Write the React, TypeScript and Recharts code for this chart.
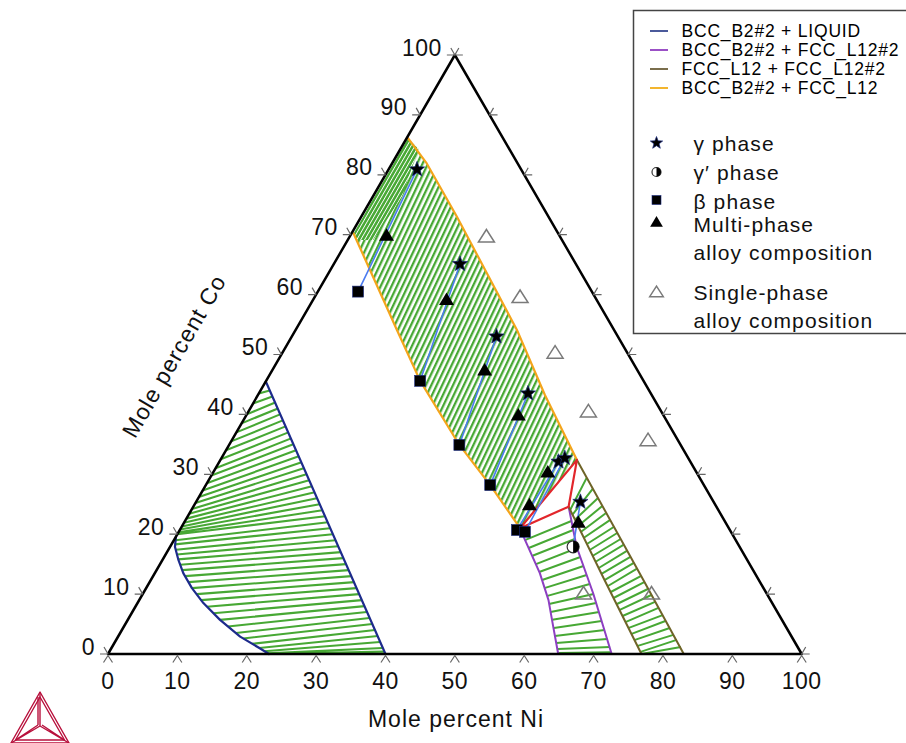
import React from 'react';
import { ScatterChart, Scatter, XAxis, YAxis } from 'recharts';

// ternary points are [Ni, Co] in mole percent, Fe is the rest
type TP = [number, number];

const SQ = Math.sqrt(3) / 2;
const FONT = '"Liberation Sans", Arial, Helvetica, sans-serif';

const GREEN = '#47a834';
const NAVY = '#1d2b8c';
const ORANGE = '#f4a51c';
const PURPLE = '#8d3fc2';
const OLIVE = '#6f6428';
const RED = '#e2262b';
const BLUE = '#4b7bf0';
const TICK = '#666666';

// axes
const axisTicks = [0, 10, 20, 30, 40, 50, 60, 70, 80, 90, 100];
const frame: TP[] = [[0, 0], [100, 0], [0, 100], [0, 0]];

// BCC_B2#2 + LIQUID
const liquidOuter: TP[] = [[0, 45.5], [40, 0]];
const liquidInner: TP[] = [
  [0, 19.6], [0.7, 17.9], [2.3, 15.7], [4.1, 13.5], [6.6, 11.0], [9.5, 8.5],
  [13.3, 5.7], [17.6, 2.9], [21.4, 0.95], [23.2, 0],
];
// tie lines: Ni, Co (liquid side) -> Ni, Co (bcc side)
const liquidTies = [
  [0, 43.5, 1.3, 44], [0, 41.8, 2.2, 43], [0, 40.0, 3.1, 42], [0, 38.5, 4.0, 41],
  [0, 37.0, 4.8, 40], [0, 35.5, 5.7, 39], [0, 34.0, 6.6, 38], [0, 32.5, 7.5, 37],
  [0, 31.0, 8.4, 36], [0, 29.8, 9.2, 35], [0, 28.5, 10.1, 34], [0, 27.3, 11.0, 33],
  [0, 26.2, 11.9, 32], [0, 25.2, 12.7, 31], [0, 24.2, 13.6, 30], [0, 23.4, 14.5, 29],
  [0, 22.6, 15.4, 28], [0, 21.9, 16.3, 27], [0, 21.3, 17.1, 26], [0, 20.8, 18.0, 25],
  [0, 20.3, 18.9, 24], [0, 20.0, 19.8, 23], [0.25, 19.0, 20.7, 22], [0.5, 18.3, 21.5, 21],
  [1.1, 17.4, 22.4, 20], [1.6, 16.6, 23.3, 19], [2.2, 15.8, 24.2, 18], [2.95, 14.9, 25.1, 17],
  [3.7, 14.0, 25.9, 16], [4.6, 13.0, 26.8, 15], [5.6, 12.0, 27.7, 14], [6.6, 11.0, 28.6, 13],
  [7.8, 10.0, 29.5, 12], [8.9, 9.0, 30.3, 11], [10.3, 7.9, 31.2, 10], [11.8, 6.8, 32.1, 9],
  [13.3, 5.7, 33.0, 8], [15.0, 4.6, 33.8, 7], [16.7, 3.5, 34.7, 6], [18.2, 2.6, 35.6, 5],
  [19.9, 1.7, 36.5, 4], [21.3, 1.0, 37.4, 3], [22.3, 0.45, 38.2, 2], [23.0, 0.1, 39.1, 1],
  [23.2, 0, 39.6, 0.4],
];

// BCC_B2#2 + FCC_L12
const bandFcc: TP[] = [[0.2, 86.1], [5.0, 81.9], [13.8, 73.0], [22.8, 63.6], [31.9, 54.1], [41.4, 43.2], [51.4, 32.4]];
const bandBcc: TP[] = [[0.3, 70.2], [14.6, 54.1], [22.2, 45.6], [33.2, 34.9], [41.0, 28.2], [48.9, 21.0]];
const bandDense: TP[] = [[0.3, 70.2], [0.2, 86.1], [2.6, 84.3], [4.2, 76.3], [3.7, 69.1], [1.3, 69.1]];

// three phase triangle BCC_B2#2 + FCC_L12 + FCC_L12#2
const threePhase: TP[] = [[48.9, 21.0], [51.4, 32.4], [54.1, 24.6], [48.9, 21.0]];

// BCC_B2#2 + FCC_L12#2
const purpleLeft: TP[] = [[48.9, 21.0], [50.1, 19.6], [55.5, 13.5], [59.0, 9.0], [61.9, 4.56], [64.9, 0]];
const purpleRight: TP[] = [[54.1, 24.6], [58.6, 17.9], [64.9, 10.1], [72.6, 0]];
const purpleTies = [
  [50.6, 19.0, 55.7, 22.2], [51.8, 17.7, 56.7, 20.7], [53.0, 16.4, 57.7, 19.2],
  [54.2, 15.0, 58.8, 17.7], [55.3, 13.7, 60.0, 16.2], [56.4, 12.35, 61.2, 14.7],
  [57.4, 11.0, 62.4, 13.2], [58.5, 9.7, 63.6, 11.7], [59.4, 8.35, 65.0, 10.0],
  [60.3, 7.0, 66.1, 8.5], [61.2, 5.7, 67.3, 7.0], [62.1, 4.35, 68.4, 5.5],
  [62.9, 3.0, 69.6, 4.0], [63.7, 1.85, 70.7, 2.5], [64.4, 0.85, 71.8, 1.15],
  [64.8, 0.15, 72.4, 0.3],
];

// FCC_L12 + FCC_L12#2
const oliveLeft: TP[] = [[54.1, 24.6], [65.4, 12.35], [76.9, 0]];
const oliveRight: TP[] = [[51.4, 32.4], [71.0, 12.35], [83.0, 0]];
const oliveTies = [
  [54.6, 24.0, 54.3, 29.4], [55.3, 23.2, 56.1, 27.55], [56.1, 22.4, 57.6, 26.0],
  [57.1, 21.4, 58.9, 24.7], [58.0, 20.4, 60.0, 23.5], [58.9, 19.4, 61.2, 22.4],
  [59.9, 18.4, 62.3, 21.2], [60.8, 17.4, 63.3, 20.2], [61.7, 16.4, 64.3, 19.2],
  [62.6, 15.4, 65.2, 18.2], [63.6, 14.4, 66.2, 17.2], [64.5, 13.4, 67.2, 16.2],
  [65.4, 12.35, 68.2, 15.2], [66.4, 11.35, 69.1, 14.2], [67.3, 10.35, 70.3, 13.0],
  [68.2, 9.35, 71.3, 12.0], [69.2, 8.35, 72.4, 10.85], [70.1, 7.35, 73.4, 9.85],
  [71.0, 6.35, 74.5, 8.7], [72.0, 5.35, 75.5, 7.7], [72.9, 4.35, 76.7, 6.5],
  [73.8, 3.35, 77.6, 5.5], [74.8, 2.35, 78.8, 4.35], [75.7, 1.35, 79.9, 3.2],
  [76.6, 0.35, 80.8, 2.35], [76.9, 0, 82.0, 1.15],
];

// measured phases and alloys
const gammaPts: TP[] = [[4.1, 80.9], [18.2, 65.1], [29.5, 53.0], [38.8, 43.5], [48.9, 32.1], [49.5, 32.7], [55.4, 25.4]];
const gammaPrimePts: TP[] = [[58.1, 17.9]];
const betaPts: TP[] = [[5.8, 60.5], [22.2, 45.6], [33.2, 34.9], [41.0, 28.2], [48.6, 20.7], [49.9, 20.4]];
const multiPts: TP[] = [[5.2, 69.9], [19.2, 59.2], [30.6, 47.4], [39.2, 39.9], [48.2, 30.4], [48.3, 24.9], [56.8, 22.0]];
const singlePts: TP[] = [[19.7, 69.7], [29.6, 59.6], [39.3, 50.3], [49.0, 40.5], [60.0, 35.7], [63.5, 10.1], [73.3, 10.1]];
// measured tie lines (beta -> gamma, gamma -> gamma')
const measuredTies = [
  [5.8, 60.5, 4.1, 80.9], [22.2, 45.6, 18.2, 65.1], [33.2, 34.9, 29.5, 53.0],
  [41.0, 28.2, 38.8, 43.5], [48.6, 20.7, 48.9, 32.1], [49.9, 20.4, 49.5, 32.7],
  [55.4, 25.4, 58.1, 17.9],
];

const legendLines = [
  { name: 'BCC_B2#2 + LIQUID', color: '#4b5a9b' },
  { name: 'BCC_B2#2 + FCC_L12#2', color: '#9b50c6' },
  { name: 'FCC_L12 + FCC_L12#2', color: '#7a6e4c' },
  { name: 'BCC_B2#2 + FCC_L12', color: '#f3b52e' },
];
const legendMarks = [
  { text: ['γ phase'], mark: 'star' },
  { text: ['γ′ phase'], mark: 'half' },
  { text: ['β phase'], mark: 'square' },
  { text: ['Multi-phase', 'alloy composition'], mark: 'tri' },
  { text: ['Single-phase', 'alloy composition'], mark: 'open' },
];

const xy = (p: TP) => ({ x: p[0] + p[1] / 2, y: p[1] * SQ });
const path = (pts: TP[]) => pts.map(xy);
const ties = (list: number[][]) => list.flatMap((t) => [xy([t[0], t[1]]), xy([t[2], t[3]])]);

const noDot = () => null;

const Poly = (props: any) => {
  const pts = (props.points || []).filter((p: any) => p && p.x != null && p.y != null);
  if (pts.length < 2) return null;
  const d = pts.map((p: any, i: number) => `${i ? 'L' : 'M'}${p.x.toFixed(2)},${p.y.toFixed(2)}`).join(' ') + (props.closed ? ' Z' : '');
  return (
    <g>
      {props.defs}
      <path d={d} fill={props.area || 'none'} stroke={props.edge || 'none'} strokeWidth={props.weight || 1} strokeLinejoin="round" strokeLinecap="round" />
    </g>
  );
};

const Pairs = (props: any) => {
  const pts = props.points || [];
  let d = '';
  for (let i = 0; i + 1 < pts.length; i += 2) {
    d += `M${pts[i].x.toFixed(2)},${pts[i].y.toFixed(2)} L${pts[i + 1].x.toFixed(2)},${pts[i + 1].y.toFixed(2)} `;
  }
  return <path d={d} fill="none" stroke={props.edge} strokeWidth={props.weight || 1} strokeLinecap="butt" />;
};

const hatchDefs = (
  <defs>
    <pattern id="bandHatch" patternUnits="userSpaceOnUse" width={4.9} height={20} patternTransform="rotate(25.4)">
      <rect width={4.9} height={20} fill="#ffffff" />
      <rect width={2.3} height={20} fill={GREEN} />
    </pattern>
    <pattern id="denseHatch" patternUnits="userSpaceOnUse" width={3.4} height={20} patternTransform="rotate(30)">
      <rect width={3.4} height={20} fill={GREEN} />
      <rect width={0.9} height={20} fill="#ffffff" />
    </pattern>
  </defs>
);

const starPoints = (cx: number, cy: number, r: number) => {
  const out: string[] = [];
  for (let i = 0; i < 10; i++) {
    const rad = i % 2 ? r * 0.42 : r;
    const a = -Math.PI / 2 + (i * Math.PI) / 5;
    out.push(`${(cx + rad * Math.cos(a)).toFixed(2)},${(cy + rad * Math.sin(a)).toFixed(2)}`);
  }
  return out.join(' ');
};

const StarMark = ({ cx, cy, r = 8 }: any) => <polygon points={starPoints(cx, cy, r)} fill="#000" stroke="#1a2a80" strokeWidth={0.7} />;
const TriMark = ({ cx, cy, s = 1 }: any) => (
  <polygon points={`${cx},${cy - 7 * s} ${cx - 7.5 * s},${cy + 5.5 * s} ${cx + 7.5 * s},${cy + 5.5 * s}`} fill="#000" />
);
const SquareMark = ({ cx, cy, s = 11 }: any) => <rect x={cx - s / 2} y={cy - s / 2} width={s} height={s} fill="#000" stroke="#1a2a80" strokeWidth={0.6} />;
const OpenTriMark = ({ cx, cy, s = 1 }: any) => (
  <polygon points={`${cx},${cy - 7 * s} ${cx - 8 * s},${cy + 5.5 * s} ${cx + 8 * s},${cy + 5.5 * s}`} fill="none" stroke="#7a7a7a" strokeWidth={1.5} />
);
const HalfMark = ({ cx, cy, r = 6 }: any) => (
  <g>
    <circle cx={cx} cy={cy} r={r} fill="#fff" stroke="#333" strokeWidth={1.2} />
    <path d={`M${cx},${cy - r} A${r},${r} 0 0 1 ${cx},${cy + r} Z`} fill="#000" />
  </g>
);

const TickBottom = ({ cx, cy }: any) => (
  <path d={`M${cx - 4.5},${cy + 8.5} L${cx},${cy + 1.5} L${cx + 4.5},${cy + 8.5}`} stroke={TICK} fill="none" strokeWidth={1.2} />
);
const TickLeft = ({ cx, cy }: any) => (
  <path d={`M${cx - 8},${cy} L${cx},${cy} M${cx - 4},${cy - 7} L${cx},${cy}`} stroke={TICK} fill="none" strokeWidth={1.2} />
);
const TickRight = ({ cx, cy }: any) => (
  <path d={`M${cx + 8},${cy} L${cx},${cy} L${cx + 4},${cy - 7}`} stroke={TICK} fill="none" strokeWidth={1.2} />
);

const txtOf = (p: any) => (p.payload && p.payload.txt) ?? p.txt;
const BottomLabel = (p: any) => (
  <text x={p.cx} y={p.cy + 35} textAnchor="middle" fontSize={23} fontFamily={FONT} letterSpacing={0.5} fill="#111">
    {txtOf(p)}
  </text>
);
const LeftLabel = (p: any) => (
  <text x={p.cx - 13} y={p.cy + 0.5} textAnchor="end" fontSize={23} fontFamily={FONT} letterSpacing={0.5} fill="#111">
    {txtOf(p)}
  </text>
);

const bottomPts = axisTicks.map((v) => ({ ...xy([v, 0]), txt: String(v) }));
const leftPts = axisTicks.map((v) => ({ ...xy([0, v]), txt: String(v) }));
const rightPts = axisTicks.map((v) => xy([100 - v, v]));
const bandPoly = [...bandFcc, ...[...bandBcc].reverse()];

const LegendMark = ({ kind, cx, cy }: any) => {
  if (kind === 'star') return <StarMark cx={cx} cy={cy} r={6.5} />;
  if (kind === 'half') return <HalfMark cx={cx} cy={cy} r={4.5} />;
  if (kind === 'square') return <SquareMark cx={cx} cy={cy} s={9} />;
  if (kind === 'tri') return <TriMark cx={cx} cy={cy} s={0.85} />;
  return <OpenTriMark cx={cx} cy={cy} s={0.85} />;
};

const Overlay = () => {
  const lineRows = [31, 50, 69, 88];
  const markRows = [
    { mark: 143, base: [151] },
    { mark: 172, base: [180] },
    { mark: 200, base: [209] },
    { mark: 222, base: [232, 260] },
    { mark: 292, base: [300, 328] },
  ];
  return (
    <svg width={906} height={743} style={{ position: 'absolute', left: 0, top: 0, pointerEvents: 'none' }}>
      <rect x={633.5} y={10.5} width={300} height={323} fill="#fff" stroke="#444" strokeWidth={1.5} />
      {legendLines.map((l, i) => (
        <g key={l.name}>
          <line x1={650} x2={668} y1={lineRows[i]} y2={lineRows[i]} stroke={l.color} strokeWidth={2} />
          <text x={681.5} y={lineRows[i] + 6.4} fontSize={17.5} fontFamily={FONT} letterSpacing={0.8} fill="#000">
            {l.name}
          </text>
        </g>
      ))}
      {legendMarks.map((m, i) => (
        <g key={i}>
          <LegendMark kind={m.mark} cx={656.5} cy={markRows[i].mark} />
          {m.text.map((t, j) => (
            <text key={j} x={693.5} y={markRows[i].base[j]} fontSize={21} fontFamily={FONT} letterSpacing={1.1} fill="#111">
              {t}
            </text>
          ))}
        </g>
      ))}
      <text x={456} y={727} textAnchor="middle" fontSize={23} fontFamily={FONT} letterSpacing={1} fill="#111">
        Mole percent Ni
      </text>
      <text x={181} y={360} textAnchor="middle" fontSize={23} fontFamily={FONT} letterSpacing={1} fill="#111" transform="rotate(-60 181 360)">
        Mole percent Co
      </text>
      <g stroke="#b8103c" strokeWidth={1.4} fill="none" strokeLinejoin="round">
        <polygon points="40,692 11,743 69,743" />
        <polygon points="40,697 15.5,740 64.5,740" />
        <path d="M40,692 L40,726 M38,697 L38,725 M11,743 L40,726 L69,743 M15.5,740 L38,725 M64.5,740 L42,725" />
      </g>
    </svg>
  );
};

export default function App() {
  return (
    <div style={{ position: 'absolute', left: 0, top: 0, width: 906, height: 743, overflow: 'hidden', background: '#fff' }}>
      <ScatterChart width={906} height={743} margin={{ top: 55, right: 104.3, bottom: 89, left: 108 }}>
        <XAxis type="number" dataKey="x" domain={[0, 100]} hide />
        <YAxis type="number" dataKey="y" domain={[0, 100 * SQ]} hide />

        {/* BCC + liquid fan */}
        <Scatter data={ties(liquidTies)} line={<Pairs edge={GREEN} weight={2.1} />} shape={noDot} isAnimationActive={false} />
        <Scatter data={path(liquidOuter)} line={<Poly edge={NAVY} weight={2.2} />} shape={noDot} isAnimationActive={false} />
        <Scatter data={path(liquidInner)} line={<Poly edge={NAVY} weight={2.2} />} shape={noDot} isAnimationActive={false} />

        {/* BCC + FCC_L12 band */}
        <Scatter data={path(bandPoly)} line={<Poly area="url(#bandHatch)" closed defs={hatchDefs} />} shape={noDot} isAnimationActive={false} />
        <Scatter data={path(bandDense)} line={<Poly area="url(#denseHatch)" closed />} shape={noDot} isAnimationActive={false} />

        {/* two phase fields below the three phase triangle */}
        <Scatter data={ties(purpleTies)} line={<Pairs edge={GREEN} weight={2} />} shape={noDot} isAnimationActive={false} />
        <Scatter data={ties(oliveTies)} line={<Pairs edge={GREEN} weight={2} />} shape={noDot} isAnimationActive={false} />

        <Scatter data={path(bandFcc)} line={<Poly edge={ORANGE} weight={2.2} />} shape={noDot} isAnimationActive={false} />
        <Scatter data={path(bandBcc)} line={<Poly edge={ORANGE} weight={2.2} />} shape={noDot} isAnimationActive={false} />
        <Scatter data={path(purpleLeft)} line={<Poly edge={PURPLE} weight={2} />} shape={noDot} isAnimationActive={false} />
        <Scatter data={path(purpleRight)} line={<Poly edge={PURPLE} weight={2} />} shape={noDot} isAnimationActive={false} />
        <Scatter data={path(oliveLeft)} line={<Poly edge={OLIVE} weight={2} />} shape={noDot} isAnimationActive={false} />
        <Scatter data={path(oliveRight)} line={<Poly edge={OLIVE} weight={2} />} shape={noDot} isAnimationActive={false} />
        <Scatter data={path(threePhase)} line={<Poly edge={RED} weight={2.2} />} shape={noDot} isAnimationActive={false} />

        {/* frame and ticks */}
        <Scatter data={path(frame)} line={<Poly edge="#000" weight={2.5} />} shape={noDot} isAnimationActive={false} />
        <Scatter data={bottomPts} shape={TickBottom} isAnimationActive={false} />
        <Scatter data={leftPts} shape={TickLeft} isAnimationActive={false} />
        <Scatter data={rightPts} shape={TickRight} isAnimationActive={false} />
        <Scatter data={bottomPts} shape={BottomLabel} isAnimationActive={false} />
        <Scatter data={leftPts} shape={LeftLabel} isAnimationActive={false} />

        {/* measured tie lines and alloys */}
        <Scatter data={ties(measuredTies)} line={<Pairs edge={BLUE} weight={1.6} />} shape={noDot} isAnimationActive={false} />
        <Scatter data={path(singlePts)} shape={OpenTriMark} isAnimationActive={false} />
        <Scatter data={path(betaPts)} shape={SquareMark} isAnimationActive={false} />
        <Scatter data={path(multiPts)} shape={TriMark} isAnimationActive={false} />
        <Scatter data={path(gammaPrimePts)} shape={HalfMark} isAnimationActive={false} />
        <Scatter data={path(gammaPts)} shape={StarMark} isAnimationActive={false} />
      </ScatterChart>
      <Overlay />
    </div>
  );
}
